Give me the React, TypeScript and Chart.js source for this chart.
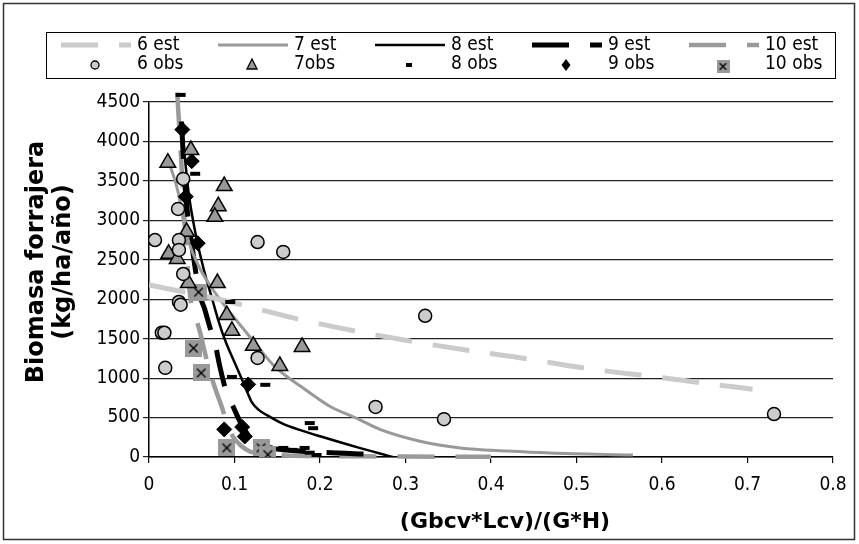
import React, { useEffect, useRef } from "react";
import { Chart, registerables } from "chart.js";

Chart.register(...registerables);

// ---------- data ----------
const xTickValues = [0, 0.1, 0.2, 0.3, 0.4, 0.5, 0.6, 0.7, 0.8];
const yTickValues = [0, 500, 1000, 1500, 2000, 2500, 3000, 3500, 4000, 4500];

const est6X = [0, 0.075, 0.19, 0.3, 0.38, 0.43, 0.52, 0.59, 0.66, 0.706];
const est6Y = [2180, 2015, 1710, 1480, 1340, 1265, 1110, 1020, 920, 860];

const est7X = [0.022, 0.034, 0.042, 0.05, 0.06, 0.07, 0.082, 0.095, 0.11, 0.125, 0.145, 0.16, 0.177, 0.212, 0.243, 0.27, 0.317, 0.364, 0.42, 0.469, 0.566];
const est7Y = [3780, 3360, 2900, 2620, 2380, 2200, 2010, 1830, 1630, 1430, 1170, 1030, 900, 640, 490, 350, 200, 115, 75, 50, 25];

const est8X = [0.038, 0.046, 0.055, 0.064, 0.074, 0.082, 0.089, 0.1, 0.109, 0.115, 0.12, 0.128, 0.138, 0.155, 0.177, 0.204, 0.243, 0.285];
const est8Y = [4250, 3380, 2800, 2380, 2000, 1700, 1480, 1200, 975, 820, 700, 600, 530, 430, 340, 250, 125, 0];

const est9X = [0.038, 0.042, 0.046, 0.05, 0.055, 0.06, 0.065, 0.071, 0.077, 0.083, 0.089, 0.095, 0.1, 0.105, 0.11, 0.118, 0.13, 0.145, 0.16, 0.2, 0.26];
const est9Y = [4250, 3450, 3000, 2700, 2320, 2030, 1880, 1650, 1450, 1140, 880, 720, 600, 480, 380, 250, 160, 110, 90, 60, 35];

const est10X = [0.033, 0.035, 0.038, 0.042, 0.048, 0.054, 0.06, 0.067, 0.074, 0.08, 0.085, 0.09, 0.098, 0.108, 0.118, 0.138, 0.16, 0.2, 0.25, 0.3, 0.35, 0.4];
const est10Y = [4620, 4250, 3700, 2900, 2050, 1800, 1570, 1250, 980, 790, 640, 470, 260, 140, 70, 30, 20, 12, 8, 5, 3, 2];

const obs6X = [0.007, 0.015, 0.018, 0.019, 0.034, 0.035, 0.035, 0.035, 0.037, 0.04, 0.04, 0.127, 0.127, 0.157, 0.265, 0.323, 0.345, 0.731];
const obs6Y = [2750, 1575, 1575, 1130, 3145, 2750, 2625, 1965, 1930, 3525, 2320, 2725, 1255, 2600, 635, 1790, 480, 545];

const obs7X = [0.022, 0.049, 0.088, 0.081, 0.077, 0.044, 0.023, 0.033, 0.046, 0.08, 0.091, 0.097, 0.122, 0.179, 0.153];
const obs7Y = [3730, 3890, 3435, 3180, 3045, 2855, 2575, 2510, 2205, 2205, 1800, 1600, 1410, 1395, 1155];

const obs8X = [0.037, 0.054, 0.095, 0.097, 0.136, 0.188, 0.192, 0.157, 0.168, 0.182, 0.188, 0.196];
const obs8Y = [4590, 3590, 1965, 1015, 915, 430, 365, 115, 90, 115, 55, 25];

const obs9X = [0.039, 0.05, 0.043, 0.057, 0.116, 0.088, 0.109, 0.112];
const obs9Y = [4150, 3750, 3300, 2710, 920, 350, 380, 260];

const obs10X = [0.058, 0.052, 0.061, 0.091, 0.131, 0.139];
const obs10Y = [2090, 1380, 1065, 115, 115, 30];

const estLabels = ["6 est", "7 est", "8 est", "9 est", "10 est"];
const obsLabels = ["6 obs", "7obs", "8 obs", "9 obs", "10 obs"];
const xTitle = "(Gbcv*Lcv)/(G*H)";
const yTitle = ["Biomasa forrajera", "(kg/ha/año)"];

// ---------- styles ----------
const NARROW = '"Liberation Sans Narrow", "DejaVu Sans Condensed", "Arial Narrow", sans-serif';
const BOLD = '"DejaVu Sans", "Liberation Sans", sans-serif';
const C6 = "#cbcbcb";
const C7 = "#999999";
const C10 = "#9a9a9a";

function pts(xs: number[], ys: number[]) {
  return xs.map((x, i) => ({ x, y: ys[i] }));
}

function makeXBox(size: number) {
  const c = document.createElement("canvas");
  c.width = size;
  c.height = size;
  const g = c.getContext("2d")!;
  g.fillStyle = "#999999";
  g.fillRect(0, 0, size, size);
  g.strokeStyle = "#000";
  g.lineWidth = 1.4;
  const m = size * 0.25;
  g.beginPath();
  g.moveTo(m, m);
  g.lineTo(size - m, size - m);
  g.moveTo(size - m, m);
  g.lineTo(m, size - m);
  g.stroke();
  return c;
}

function drawMarker(ctx: CanvasRenderingContext2D, kind: number, x: number, y: number, xbox: HTMLCanvasElement) {
  ctx.save();
  ctx.lineWidth = 1.3;
  ctx.strokeStyle = "#000";
  if (kind === 0) {
    ctx.beginPath();
    ctx.arc(x, y, 4, 0, Math.PI * 2);
    ctx.fillStyle = C6;
    ctx.fill();
    ctx.stroke();
  } else if (kind === 1) {
    ctx.beginPath();
    ctx.moveTo(x, y - 6);
    ctx.lineTo(x + 5, y + 4);
    ctx.lineTo(x - 5, y + 4);
    ctx.closePath();
    ctx.fillStyle = C7;
    ctx.fill();
    ctx.stroke();
  } else if (kind === 2) {
    ctx.fillStyle = "#000";
    ctx.fillRect(x - 3, y - 2, 6, 4);
  } else if (kind === 3) {
    ctx.beginPath();
    ctx.moveTo(x, y - 6);
    ctx.lineTo(x + 4.5, y);
    ctx.lineTo(x, y + 6);
    ctx.lineTo(x - 4.5, y);
    ctx.closePath();
    ctx.fillStyle = "#000";
    ctx.fill();
  } else {
    ctx.drawImage(xbox, x - 6.5, y - 5, 13, 13);
  }
  ctx.restore();
}

const estStyles = [
  { color: C6, width: 5, dash: [37, 21] },
  { color: C7, width: 3, dash: [] as number[] },
  { color: "#000", width: 2.5, dash: [] as number[] },
  { color: "#000", width: 5, dash: [37, 21] },
  { color: C10, width: 4.5, dash: [37, 21] },
];

export default function App() {
  const ref = useRef<HTMLCanvasElement | null>(null);

  useEffect(() => {
    if (!ref.current) return;
    const xbox = makeXBox(17);
    const xboxLegend = makeXBox(13);

    const extras = {
      id: "extras",
      afterDraw(chart: any) {
        const ctx: CanvasRenderingContext2D = chart.ctx;
        ctx.save();
        // outer frame
        ctx.strokeStyle = "#333";
        ctx.lineWidth = 1.5;
        ctx.strokeRect(3.5, 3.5, 851, 536);

        // legend
        ctx.fillStyle = "#fff";
        ctx.fillRect(46.5, 32.5, 789, 46);
        ctx.strokeStyle = "#000";
        ctx.lineWidth = 1;
        ctx.strokeRect(46.5, 32.5, 789, 46);
        ctx.font = `19px ${NARROW}`;
        ctx.textBaseline = "middle";
        ctx.textAlign = "left";
        for (let i = 0; i < 5; i++) {
          const tx = 137 + 157 * i;
          const st = estStyles[i];
          ctx.save();
          ctx.strokeStyle = st.color;
          ctx.lineWidth = st.width;
          ctx.setLineDash(st.dash);
          ctx.beginPath();
          ctx.moveTo(tx - 76, 45);
          ctx.lineTo(tx - 6, 45);
          ctx.stroke();
          ctx.restore();
          ctx.fillStyle = "#000";
          ctx.fillText(estLabels[i], tx, 45);
          drawMarker(ctx, i, tx - 42, 65, xboxLegend);
          ctx.fillStyle = "#000";
          ctx.fillText(obsLabels[i], tx, 64);
        }

        // axis titles
        ctx.fillStyle = "#000";
        ctx.font = `bold 22px ${BOLD}`;
        ctx.textAlign = "center";
        ctx.textBaseline = "middle";
        ctx.fillText(xTitle, 505, 522);
        ctx.font = `bold 24px ${BOLD}`;
        ctx.save();
        ctx.translate(37, 262);
        ctx.rotate(-Math.PI / 2);
        ctx.fillText(yTitle[0], 0, 0);
        ctx.restore();
        ctx.save();
        ctx.translate(64, 262);
        ctx.rotate(-Math.PI / 2);
        ctx.fillText(yTitle[1], 0, 0);
        ctx.restore();
        ctx.restore();
      },
    };

    const estX = [est6X, est7X, est8X, est9X, est10X];
    const estY = [est6Y, est7Y, est8Y, est9Y, est10Y];

    const obsSets: any[] = [
      { label: obsLabels[0], data: pts(obs6X, obs6Y), pointStyle: "circle", pointRadius: 6.5, backgroundColor: "#cccccc", borderColor: "#000", borderWidth: 1.5 },
      { label: obsLabels[1], data: pts(obs7X, obs7Y), pointStyle: "triangle", pointRadius: 9, backgroundColor: "#999999", borderColor: "#000", borderWidth: 1.5 },
      { label: obsLabels[2], data: pts(obs8X, obs8Y), pointStyle: "line", pointRadius: 5, backgroundColor: "#000", borderColor: "#000", borderWidth: 4, clip: false },
      { label: obsLabels[3], data: pts(obs9X, obs9Y), pointStyle: "rectRot", pointRadius: 7.5, backgroundColor: "#000", borderColor: "#000", borderWidth: 1 },
      { label: obsLabels[4], data: pts(obs10X, obs10Y), pointStyle: xbox, pointRadius: 8.5, backgroundColor: "#999", borderColor: "#000", borderWidth: 0 },
    ].map((d) => ({ ...d, type: "scatter", showLine: false, pointHoverRadius: d.pointRadius }));

    const estSets: any[] = estLabels.map((label, i) => ({
      label,
      type: "scatter",
      data: pts(estX[i], estY[i]),
      showLine: true,
      pointRadius: 0,
      pointHoverRadius: 0,
      borderColor: estStyles[i].color,
      backgroundColor: estStyles[i].color,
      borderWidth: estStyles[i].width,
      borderDash: estStyles[i].dash,
      tension: 0,
      cubicInterpolationMode: "monotone",
      fill: false,
      clip: i === 4 ? false : undefined,
    }));

    const chart = new Chart(ref.current, {
      type: "scatter",
      data: { datasets: [...obsSets, ...estSets] },
      options: {
        animation: false,
        responsive: true,
        maintainAspectRatio: false,
        events: [],
        layout: { padding: { left: 0, top: 102, right: 26, bottom: 0 } },
        plugins: { legend: { display: false }, tooltip: { enabled: false }, title: { display: false } },
        scales: {
          x: {
            type: "linear",
            min: 0,
            max: 0.8,
            afterBuildTicks: (s: any) => {
              s.ticks = xTickValues.map((v) => ({ value: v }));
            },
            afterFit: (s: any) => {
              s.height = 87;
            },
            ticks: {
              color: "#000",
              font: { family: NARROW, size: 19 },
              padding: 11,
              maxRotation: 0,
              autoSkip: false,
              callback: (v: any) => String(Number(Number(v).toFixed(1))),
            },
            grid: { drawOnChartArea: false, drawTicks: true, tickLength: 6, color: "#000", lineWidth: 1.2 },
            border: { display: true, color: "#000", width: 1.5 },
          },
          y: {
            type: "linear",
            min: 0,
            max: 4500,
            afterBuildTicks: (s: any) => {
              s.ticks = yTickValues.map((v) => ({ value: v }));
            },
            afterFit: (s: any) => {
              s.width = 149;
            },
            ticks: {
              color: "#000",
              font: { family: NARROW, size: 19 },
              padding: 3,
              autoSkip: false,
              callback: (v: any) => String(v),
            },
            grid: { drawOnChartArea: true, drawTicks: true, tickLength: 6, color: "#222", lineWidth: 1.2 },
            border: { display: true, color: "#000", width: 1.5 },
          },
        },
      } as any,
      plugins: [extras],
    });
    return () => chart.destroy();
  }, []);

  return (
    <div style={{ position: "absolute", left: 0, top: 0, width: 859, height: 544, background: "#fff" }}>
      <canvas ref={ref} />
    </div>
  );
}
